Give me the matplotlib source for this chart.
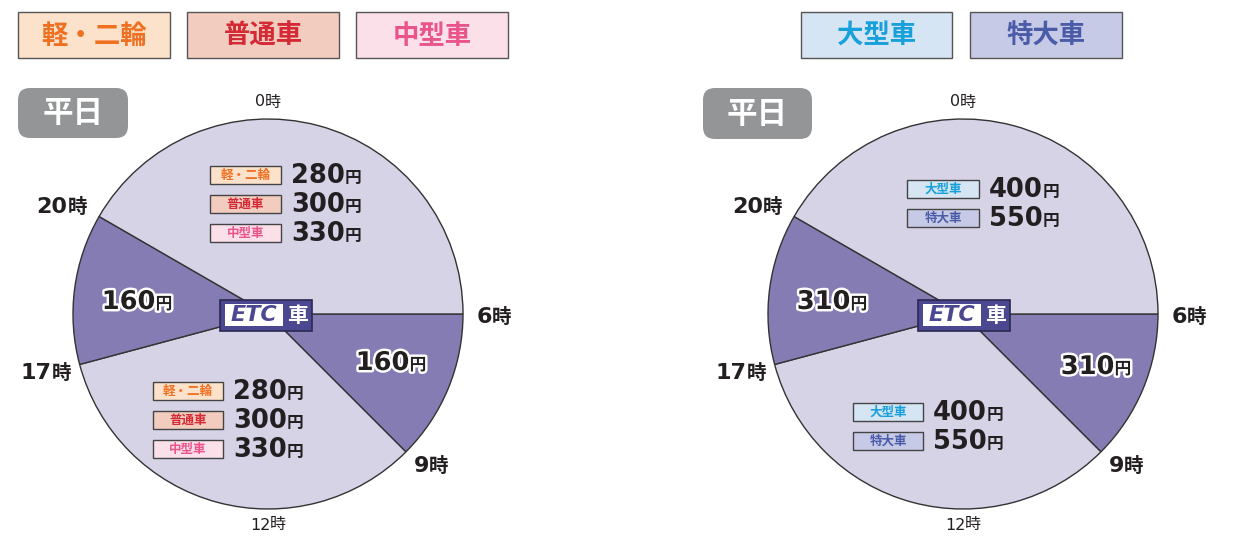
import numpy as np
import matplotlib
matplotlib.use("Agg")
import matplotlib.pyplot as plt
import matplotlib.patheffects as pe
from matplotlib.patches import Rectangle, FancyBboxPatch
from matplotlib.offsetbox import TextArea, HPacker, AnnotationBbox

# ---- data ----
slice_hours = [3, 8, 3, 10]          # 6-9, 9-17, 17-20, 20-6
slice_kind = ["dark", "light", "dark", "light"]
hour_ticks = [0, 6, 9, 12, 17, 20]

left_cats = ["軽・二輪", "普通車", "中型車"]
left_day_prices = ["280", "300", "330"]     # 20-6 slice
left_mid_prices = ["280", "300", "330"]     # 9-17 slice
left_off_price = "160"                     # 6-9 and 17-20

right_cats = ["大型車", "特大車"]
right_day_prices = ["400", "550"]
right_mid_prices = ["400", "550"]
right_off_price = "310"

cat_fill = {"軽・二輪": "#fde2cb", "普通車": "#f2cdbf", "中型車": "#fbe0ea",
            "大型車": "#d5e5f3", "特大車": "#c6cae6"}
cat_text = {"軽・二輪": "#f07022", "普通車": "#d42a35", "中型車": "#e9558b",
            "大型車": "#17a0da", "特大車": "#4a5ca8"}

W, H = 1236, 536
JP = ["Noto Sans CJK JP", "DejaVu Sans"]
LIGHT, DARK = "#d6d3e7", "#857cb3"
INK = "#231f20"

fig = plt.figure(figsize=(W / 100, H / 100), dpi=100)
ax = fig.add_axes([0, 0, 1, 1])


def Y(py):
    return H - py


def num_unit(x, y, num, unit, size, usize, weight="bold", halo=False, align=(0, 0.5)):
    effects = [pe.withStroke(linewidth=3.5, foreground="white")] if halo else []
    t1 = TextArea(num, textprops=dict(fontsize=size, fontweight=weight, family="DejaVu Sans",
                                      color=INK, path_effects=effects))
    t2 = TextArea(unit, textprops=dict(fontsize=usize, fontweight=weight, family=JP,
                                       color=INK, path_effects=effects))
    box = HPacker(children=[t1, t2], align="baseline", pad=0, sep=0)
    ab = AnnotationBbox(box, (x, Y(y)), box_alignment=align, frameon=False, pad=0)
    ax.add_artist(ab)


def legend_box(x0, x1, y0, y1, cat, size):
    ax.add_patch(Rectangle((x0, Y(y1)), x1 - x0, y1 - y0, facecolor=cat_fill[cat],
                           edgecolor="#555555", linewidth=1))
    ax.text((x0 + x1) / 2, Y((y0 + y1) / 2) - 1, cat, ha="center", va="center",
            fontsize=size, fontweight="bold", family=JP, color=cat_text[cat])


def weekday_badge(x0, x1, y0, y1):
    ax.add_patch(FancyBboxPatch((x0 + 12, Y(y1) + 12), x1 - x0 - 24, y1 - y0 - 24,
                                boxstyle="round,pad=12", facecolor="#939597", edgecolor="none"))
    ax.text((x0 + x1) / 2, Y((y0 + y1) / 2), "平日", ha="center", va="center",
            fontsize=22, fontweight="bold", family=JP, color="white")


def etc_box(cx, cy):
    ax.add_patch(Rectangle((cx - 46, Y(cy + 15.5)), 92, 31, facecolor="#4b4791",
                           edgecolor="#2a2850", linewidth=1.2, zorder=5))
    ax.add_patch(Rectangle((cx - 41, Y(cy + 11)), 58, 22, facecolor="white",
                           edgecolor="none", zorder=6))
    ax.text(cx - 12, Y(cy), "ETC", ha="center", va="center", fontsize=16,
            fontweight="bold", style="italic", family="DejaVu Sans", color="#4b4791", zorder=7)
    ax.text(cx + 31, Y(cy), "車", ha="center", va="center", fontsize=15,
            fontweight="bold", family=JP, color="white", zorder=7)


def price_rows(bx0, bx1, ys, px, cats, prices):
    for yy, cat, p in zip(ys, cats, prices):
        ax.add_patch(Rectangle((bx0, Y(yy + 9)), bx1 - bx0, 18, facecolor=cat_fill[cat],
                               edgecolor="#444444", linewidth=1, zorder=4))
        ax.text((bx0 + bx1) / 2, Y(yy), cat, ha="center", va="center", fontsize=9,
                fontweight="bold", family=JP, color=cat_text[cat], zorder=5)
        num_unit(px, yy + 1, p, "円", 18.5, 12)


# label offsets from the clock centre, in pixels
hour_offsets = {0: (0, -212), 6: (226, 3), 9: (163, 152), 12: (0, 211),
                17: (-222, 59), 20: (-206, -107)}


def clock(cx, cy, R):
    colors = [DARK if k == "dark" else LIGHT for k in slice_kind]
    ax.pie(slice_hours, colors=colors, startangle=0, counterclock=False,
           center=(cx, Y(cy)), radius=R, frame=True,
           wedgeprops=dict(edgecolor="#333333", linewidth=1.0))
    for h in hour_ticks:
        dx, dy = hour_offsets[h]
        if h in (0, 12):
            num_unit(cx + dx, cy + dy, str(h), "時", 11.5, 11.5, weight="normal", align=(0.5, 0.5))
        else:
            num_unit(cx + dx, cy + dy, str(h), "時", 16, 14, align=(0.5, 0.5))


# ---- left panel ----
for (x0, x1), cat in zip([(18, 170), (187, 339), (356, 508)], left_cats):
    legend_box(x0, x1, 12, 58, cat, 19)
weekday_badge(18, 128, 88, 138)
clock(268, 314, 195)
price_rows(210, 281, [175, 204, 233], 291, left_cats, left_day_prices)
price_rows(153, 223, [391, 420, 449], 233, left_cats, left_mid_prices)
num_unit(137, 302, left_off_price, "円", 18.5, 12, halo=True, align=(0.5, 0.5))
num_unit(391, 363, left_off_price, "円", 18.5, 12, halo=True, align=(0.5, 0.5))
etc_box(266, 315)

# ---- right panel ----
for (x0, x1), cat in zip([(801, 952), (970, 1122)], right_cats):
    legend_box(x0, x1, 12, 58, cat, 19)
weekday_badge(703, 812, 88, 139)
clock(963, 314, 195)
price_rows(907, 979, [189, 218], 989, right_cats, right_day_prices)
price_rows(853, 923, [412, 441], 933, right_cats, right_mid_prices)
num_unit(832, 302, right_off_price, "円", 18.5, 12, halo=True, align=(0.5, 0.5))
num_unit(1096, 367, right_off_price, "円", 18.5, 12, halo=True, align=(0.5, 0.5))
etc_box(964, 315)

ax.set_xlim(0, W)
ax.set_ylim(0, H)
ax.set_aspect("auto")
ax.axis("off")
fig.savefig("out.png", dpi=100, facecolor="white")
